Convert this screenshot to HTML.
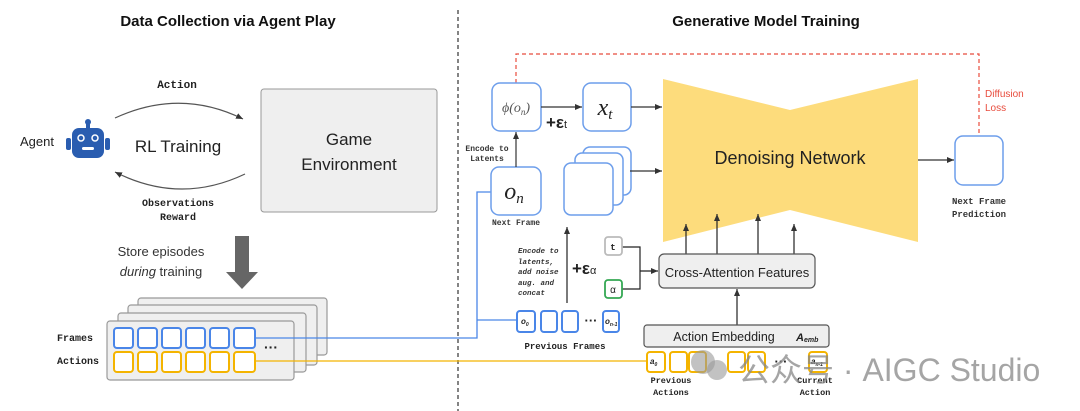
<!DOCTYPE html>
<html><head><meta charset="utf-8"><style>
body{margin:0;background:#fff;}
svg{display:block;font-family:"Liberation Sans",sans-serif;}
.m{font-family:"Liberation Mono",monospace;font-weight:bold;}
</style></head><body>
<svg width="1080" height="411" viewBox="0 0 1080 411" xmlns="http://www.w3.org/2000/svg">
<defs>
<marker id="ar" markerWidth="8" markerHeight="8" refX="7" refY="4" orient="auto" markerUnits="userSpaceOnUse"><path d="M0,1 L7,4 L0,7z" fill="#333"/></marker>
</defs>
<text x="228" y="26" font-size="15" font-weight="bold" text-anchor="middle" fill="#111">Data Collection via Agent Play</text>
<text x="766" y="26" font-size="15" font-weight="bold" text-anchor="middle" fill="#111">Generative Model Training</text>
<line x1="458" y1="10" x2="458" y2="411" stroke="#333" stroke-width="1.2" stroke-dasharray="4,3"/>

<!-- left -->
<text x="177" y="88" class="m" font-size="11" text-anchor="middle" fill="#222">Action</text>
<path d="M115,118 Q180,88 243,119" fill="none" stroke="#555" stroke-width="1.2" marker-end="url(#ar)"/>
<path d="M245,174 Q180,205 115,172" fill="none" stroke="#555" stroke-width="1.2" marker-end="url(#ar)"/>
<text x="178" y="152" font-size="17" text-anchor="middle" fill="#222">RL Training</text>
<text x="37" y="146" font-size="13" text-anchor="middle" fill="#222">Agent</text>
<g fill="#2a5db0">
<circle cx="88" cy="122" r="3"/><rect x="86" y="122" width="4" height="6"/>
<rect x="72" y="128" width="32" height="30" rx="7"/>
<rect x="66" y="138" width="5" height="12" rx="2"/><rect x="105" y="138" width="5" height="12" rx="2"/>
</g>
<circle cx="81" cy="138" r="3" fill="none" stroke="#fff" stroke-width="1.5"/>
<circle cx="95" cy="138" r="3" fill="none" stroke="#fff" stroke-width="1.5"/>
<rect x="82" y="147" width="12" height="3" rx="1.5" fill="#fff"/>
<text x="178" y="206" class="m" font-size="10" text-anchor="middle" fill="#222">Observations</text>
<text x="178" y="220" class="m" font-size="10" text-anchor="middle" fill="#222">Reward</text>
<rect x="261" y="89" width="176" height="123" rx="3" fill="#efefef" stroke="#999"/>
<text x="349" y="145" font-size="17" text-anchor="middle" fill="#222">Game</text>
<text x="349" y="170" font-size="17" text-anchor="middle" fill="#222">Environment</text>
<text x="161" y="256" font-size="13" text-anchor="middle" fill="#333">Store episodes</text>
<text x="161" y="276" font-size="13" text-anchor="middle" fill="#333"><tspan font-style="italic">during</tspan> training</text>
<rect x="235" y="236" width="14" height="36" fill="#666"/>
<path d="M226,272 L258,272 L242,289z" fill="#666"/>

<g fill="#efefef" stroke="#999" stroke-width="1.2">
<rect x="138" y="298" width="189" height="57" rx="3"/>
<rect x="128" y="305" width="189" height="60" rx="3"/>
<rect x="118" y="313" width="188" height="59" rx="3"/>
<rect x="107" y="321" width="187" height="59" rx="3"/>
</g>
<g fill="#fff" stroke="#4a86e8" stroke-width="2">
<rect x="114" y="328" width="19" height="20" rx="3"/><rect x="138" y="328" width="19" height="20" rx="3"/><rect x="162" y="328" width="19" height="20" rx="3"/><rect x="186" y="328" width="19" height="20" rx="3"/><rect x="210" y="328" width="19" height="20" rx="3"/><rect x="234" y="328" width="21" height="20" rx="3"/>
</g>
<g fill="#fff" stroke="#f4b400" stroke-width="2">
<rect x="114" y="352" width="19" height="20" rx="3"/><rect x="138" y="352" width="19" height="20" rx="3"/><rect x="162" y="352" width="19" height="20" rx="3"/><rect x="186" y="352" width="19" height="20" rx="3"/><rect x="210" y="352" width="19" height="20" rx="3"/><rect x="234" y="352" width="21" height="20" rx="3"/>
</g>
<text x="271" y="352" font-size="14" font-weight="bold" text-anchor="middle" fill="#222">···</text>
<text x="75" y="341" class="m" font-size="10" text-anchor="middle" fill="#222">Frames</text>
<text x="78" y="364" class="m" font-size="10" text-anchor="middle" fill="#222">Actions</text>

<!-- connectors -->
<polyline points="255,338 477,338 477,192 491,192" fill="none" stroke="#4a86e8" stroke-width="1.3"/>
<line x1="477" y1="320" x2="517" y2="320" stroke="#4a86e8" stroke-width="1.3"/>
<line x1="255" y1="361" x2="647" y2="361" stroke="#f4b400" stroke-width="1.3"/>

<!-- right -->
<polyline points="516,83 516,54 979,54 979,136" fill="none" stroke="#e84c3d" stroke-width="1.2" stroke-dasharray="4,3"/>
<text x="985" y="97" font-size="10" fill="#e84c3d">Diffusion</text>
<text x="985" y="111" font-size="10" fill="#e84c3d">Loss</text>
<path d="M663,79 L790,110 L918,79 L918,242 L790,210 L663,242z" fill="#fddc7c"/>
<text x="790" y="164" font-size="18" text-anchor="middle" fill="#222">Denoising Network</text>

<rect x="492" y="83" width="49" height="48" rx="8" fill="#fff" stroke="#6d9eeb" stroke-width="1.5"/>
<text x="516" y="112" font-size="14" font-family="Liberation Serif" font-style="italic" text-anchor="middle" fill="#555">ϕ(o<tspan font-size="9" dy="3">n</tspan><tspan dy="-3">)</tspan></text>
<rect x="583" y="83" width="48" height="48" rx="8" fill="#fff" stroke="#6d9eeb" stroke-width="1.5"/>
<text x="605" y="115" font-size="24" font-family="Liberation Serif" font-style="italic" text-anchor="middle" fill="#222">x<tspan font-size="15" dy="4">t</tspan></text>
<line x1="541" y1="107" x2="582" y2="107" stroke="#333" stroke-width="1.2" marker-end="url(#ar)"/>
<text x="546" y="128" font-size="17" font-weight="bold" fill="#222">+ε<tspan font-size="11" font-weight="normal">t</tspan></text>
<line x1="631" y1="107" x2="662" y2="107" stroke="#333" stroke-width="1.2" marker-end="url(#ar)"/>
<rect x="491" y="167" width="50" height="48" rx="8" fill="#fff" stroke="#6d9eeb" stroke-width="1.5"/>
<text x="514" y="199" font-size="24" font-family="Liberation Serif" font-style="italic" text-anchor="middle" fill="#222">o<tspan font-size="15" dy="4">n</tspan></text>
<line x1="516" y1="167" x2="516" y2="132" stroke="#333" stroke-width="1.2" marker-end="url(#ar)"/>
<text x="487" y="151" class="m" font-size="8" text-anchor="middle" fill="#333">Encode to</text>
<text x="487" y="161" class="m" font-size="8" text-anchor="middle" fill="#333">Latents</text>
<text x="516" y="225" class="m" font-size="8" text-anchor="middle" fill="#333">Next Frame</text>
<g fill="#fff" stroke="#6d9eeb" stroke-width="1.5">
<rect x="583" y="147" width="48" height="48" rx="7"/>
<rect x="575" y="153" width="48" height="52" rx="7"/>
<rect x="564" y="163" width="49" height="52" rx="7"/>
</g>
<line x1="630" y1="171" x2="662" y2="171" stroke="#333" stroke-width="1.2" marker-end="url(#ar)"/>
<line x1="918" y1="160" x2="954" y2="160" stroke="#333" stroke-width="1.2" marker-end="url(#ar)"/>
<rect x="955" y="136" width="48" height="49" rx="8" fill="#fff" stroke="#6d9eeb" stroke-width="1.5"/>
<text x="979" y="204" class="m" font-size="9" text-anchor="middle" fill="#333">Next Frame</text>
<text x="979" y="217" class="m" font-size="9" text-anchor="middle" fill="#333">Prediction</text>

<g stroke="#222" stroke-width="1.2">
<line x1="686" y1="254" x2="686" y2="224" marker-end="url(#ar)"/>
<line x1="717" y1="254" x2="717" y2="214" marker-end="url(#ar)"/>
<line x1="758" y1="254" x2="758" y2="214" marker-end="url(#ar)"/>
<line x1="794" y1="254" x2="794" y2="224" marker-end="url(#ar)"/>
<line x1="737" y1="325" x2="737" y2="289" marker-end="url(#ar)"/>
<line x1="567" y1="303" x2="567" y2="227" marker-end="url(#ar)"/>
<polyline points="622,247 640,247 640,271" fill="none"/>
<polyline points="622,289 640,289 640,271" fill="none"/>
<line x1="640" y1="271" x2="658" y2="271" marker-end="url(#ar)"/>
</g>
<rect x="659" y="254" width="156" height="34" rx="5" fill="#efefef" stroke="#555" stroke-width="1.2"/>
<text x="737" y="277" font-size="13" text-anchor="middle" fill="#222">Cross-Attention Features</text>
<rect x="605" y="237" width="17" height="18" rx="3" fill="#fff" stroke="#bbb" stroke-width="1.8"/>
<text x="613" y="250" class="m" font-size="9" text-anchor="middle" fill="#222">t</text>
<rect x="605" y="280" width="17" height="18" rx="3" fill="#fff" stroke="#34a853" stroke-width="1.8"/>
<text x="613" y="293" font-size="10" text-anchor="middle" fill="#222">α</text>
<text x="572" y="274" font-size="17" font-weight="bold" fill="#222">+ε<tspan font-size="11" font-weight="normal">α</tspan></text>
<g font-family="Liberation Mono" font-style="italic" font-weight="bold" font-size="7.5" fill="#333">
<text x="518" y="253">Encode to</text><text x="518" y="264">latents,</text><text x="518" y="274">add noise</text><text x="518" y="285">aug. and</text><text x="518" y="295">concat</text>
</g>
<g fill="#fff" stroke="#4a86e8" stroke-width="2">
<rect x="517" y="311" width="18" height="21" rx="3"/><rect x="541" y="311" width="16" height="21" rx="3"/><rect x="562" y="311" width="16" height="21" rx="3"/><rect x="603" y="311" width="16" height="21" rx="3"/>
</g>
<text x="521" y="324" font-size="8" font-style="italic" font-weight="bold" fill="#222">o<tspan font-size="5" dy="2">0</tspan></text>
<text x="605" y="324" font-size="8" font-style="italic" font-weight="bold" fill="#222">o<tspan font-size="5" dy="2">n-1</tspan></text>
<text x="591" y="325" font-size="13" font-weight="bold" text-anchor="middle" fill="#222">···</text>
<text x="565" y="349" class="m" font-size="9" text-anchor="middle" fill="#222">Previous Frames</text>
<rect x="644" y="325" width="185" height="22" rx="3" fill="#efefef" stroke="#555" stroke-width="1.2"/>
<text x="724" y="341" font-size="12.5" text-anchor="middle" fill="#222">Action Embedding</text>
<text x="796" y="341" font-size="11" font-style="italic" font-weight="bold" fill="#222">A<tspan font-size="7" dy="1">emb</tspan></text>
<g fill="#fff" stroke="#f4b400" stroke-width="2">
<rect x="647" y="352" width="18" height="20" rx="3"/><rect x="670" y="352" width="17" height="20" rx="3"/><rect x="689" y="352" width="17" height="20" rx="3"/><rect x="728" y="352" width="17" height="20" rx="3"/><rect x="748" y="352" width="17" height="20" rx="3"/><rect x="809" y="352" width="18" height="20" rx="3"/>
</g>
<text x="650" y="364" font-size="8" font-style="italic" font-weight="bold" fill="#222">a<tspan font-size="5" dy="2">0</tspan></text>
<text x="811" y="364" font-size="8" font-style="italic" font-weight="bold" fill="#222">a<tspan font-size="5" dy="2">n-1</tspan></text>
<text x="781" y="366" font-size="13" font-weight="bold" text-anchor="middle" fill="#222">···</text>
<text x="671" y="383" class="m" font-size="8.5" text-anchor="middle" fill="#222">Previous</text>
<text x="671" y="395" class="m" font-size="8.5" text-anchor="middle" fill="#222">Actions</text>
<text x="815" y="383" class="m" font-size="8.5" text-anchor="middle" fill="#222">Current</text>
<text x="815" y="395" class="m" font-size="8.5" text-anchor="middle" fill="#222">Action</text>
<!-- watermark -->
<circle cx="703" cy="362" r="12" fill="#999" opacity="0.6"/><circle cx="717" cy="370" r="10" fill="#999" opacity="0.6"/>
<text x="738" y="381" font-size="32" fill="#888" opacity="0.75" font-family="Liberation Sans, Noto Sans CJK SC, sans-serif">公众号 · AIGC Studio</text>
</svg>
</body></html>
